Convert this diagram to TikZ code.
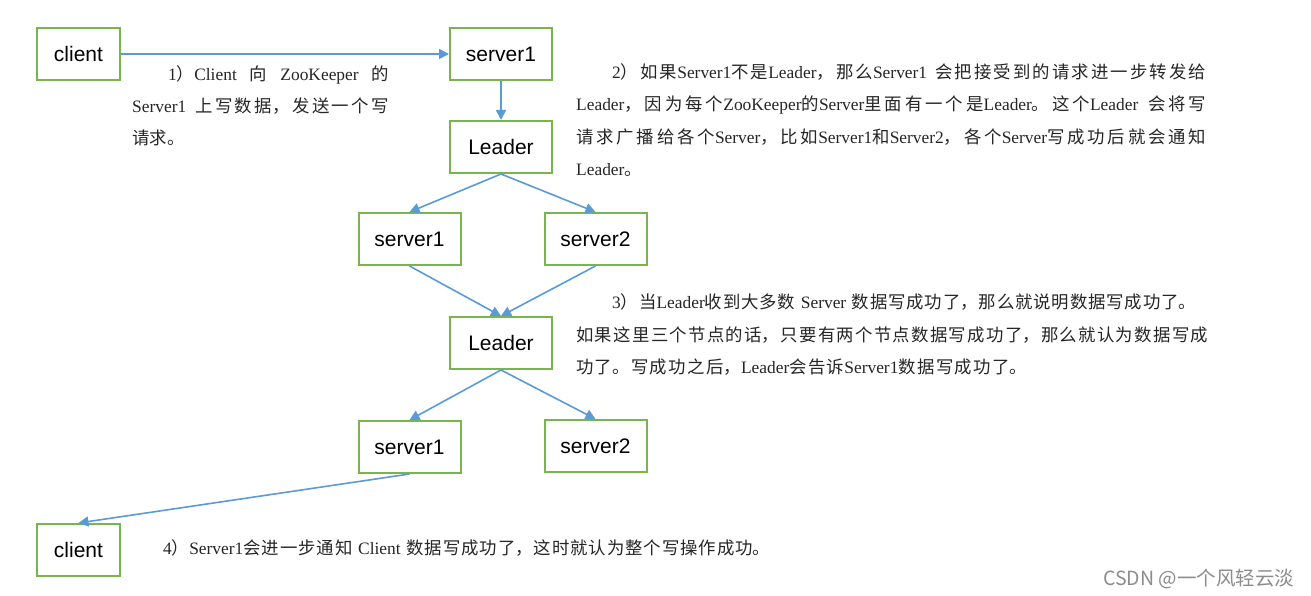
\documentclass[tikz,border=0pt]{standalone}
\usepackage{fontspec}
\setmainfont{Liberation Serif}
\newfontfamily\zhf{Noto Sans CJK SC}
\newfontfamily\enf{Liberation Serif}
\newfontfamily\boxf{Liberation Sans}
\usetikzlibrary{arrows.meta}
\definecolor{boxgreen}{RGB}{122,180,80}
\definecolor{linkblue}{RGB}{91,155,213}
\XeTeXlinebreaklocale "zh"
\XeTeXlinebreakskip=0pt plus 1pt
\newcommand\E[1]{{\enf #1}}
\newcommand\jline[4]{\node[txt] (#1) at (#2) {\parbox[b]{#3}{\parindent=0pt\parfillskip=0pt\relax #4}};}
\tikzset{
  box/.style={draw=boxgreen, line width=2pt, fill=white, minimum height=52pt, inner sep=0pt, font=\boxf\fontsize{21}{24}\selectfont},
  wide/.style={box, minimum width=102pt},
  narrow/.style={box, minimum width=83pt},
  link/.style={draw=linkblue, line width=1.6pt, -{Triangle[length=10pt,width=10pt]}},
  txt/.style={anchor=base west, inner sep=0pt, font=\zhf\fontsize{17.4}{20}\selectfont, text=black!85},
}
\begin{document}
\begin{tikzpicture}[x=1pt,y=-1pt]
\useasboundingbox[fill=white] (0,0) rectangle (1311,596);
% boxes
\node[narrow] (c1) at (78.5,54) {client};
\node[wide] (s1) at (501,54) {server1};
\node[wide] (L1) at (501,147) {Leader};
\node[wide] (m1) at (409.5,239) {server1};
\node[wide] (m2) at (595.5,239) {server2};
\node[wide] (L2) at (501,343) {Leader};
\node[wide] (b1) at (409.5,447) {server1};
\node[wide] (b2) at (595.5,446) {server2};
\node[narrow] (c2) at (78.5,550) {client};
% connectors
\draw[link] (c1) -- (s1);
\draw[link] (s1) -- (L1);
\draw[link] (L1.south) -- (m1.north);
\draw[link] (L1.south) -- (m2.north);
\draw[link] (m1.south) -- (L2.north);
\draw[link] (m2.south) -- (L2.north);
\draw[link] (L2.south) -- (b1.north);
\draw[link] (L2.south) -- (b2.north);
\draw[link] (b1.south) -- (c2.north);
% text 1
\jline{t1a}{168,81}{221pt}{\E{1}）\E{Client} 向 \E{ZooKeeper} 的}
\jline{t1b}{132,113}{257pt}{\E{Server1} 上写数据，发送一个写}
\node[txt] (t1c) at (132,145) {请求。};
% text 2
\jline{t2a}{612,79}{594pt}{\E{2}）如果\E{Server1}不是\E{Leader}，那么\E{Server1} 会把接受到的请求进一步转发给}
\jline{t2b}{576,111}{630pt}{\E{Leader}，因为每个\E{ZooKeeper}的\E{Server}里面有一个是\E{Leader}。这个\E{Leader} 会将写}
\jline{t2c}{576,144}{630pt}{请求广播给各个\E{Server}，比如\E{Server1}和\E{Server2}，各个\E{Server}写成功后就会通知}
\node[txt] (t2d) at (576,176) {\E{Leader}。};
% text 3
\jline{t3a}{612,308}{584pt}{\E{3}）当\E{Leader}收到大多数 \E{Server} 数据写成功了，那么就说明数据写成功了。}
\jline{t3b}{576,341}{632pt}{如果这里三个节点的话，只要有两个节点数据写成功了，那么就认为数据写成}
\jline{t3c}{576,373}{451pt}{功了。写成功之后，\E{Leader}会告诉\E{Server1}数据写成功了。}
% text 4
\jline{t4}{163,554}{607pt}{\E{4}）\E{Server1}会进一步通知 \E{Client} 数据写成功了，这时就认为整个写操作成功。}
% watermark
\node[anchor=base west, inner sep=0pt, font=\zhf\fontsize{19.5}{22}\selectfont, text=black!45] (wm) at (1103,585) {CSDN @一个风轻云淡};
\end{tikzpicture}
\end{document}
